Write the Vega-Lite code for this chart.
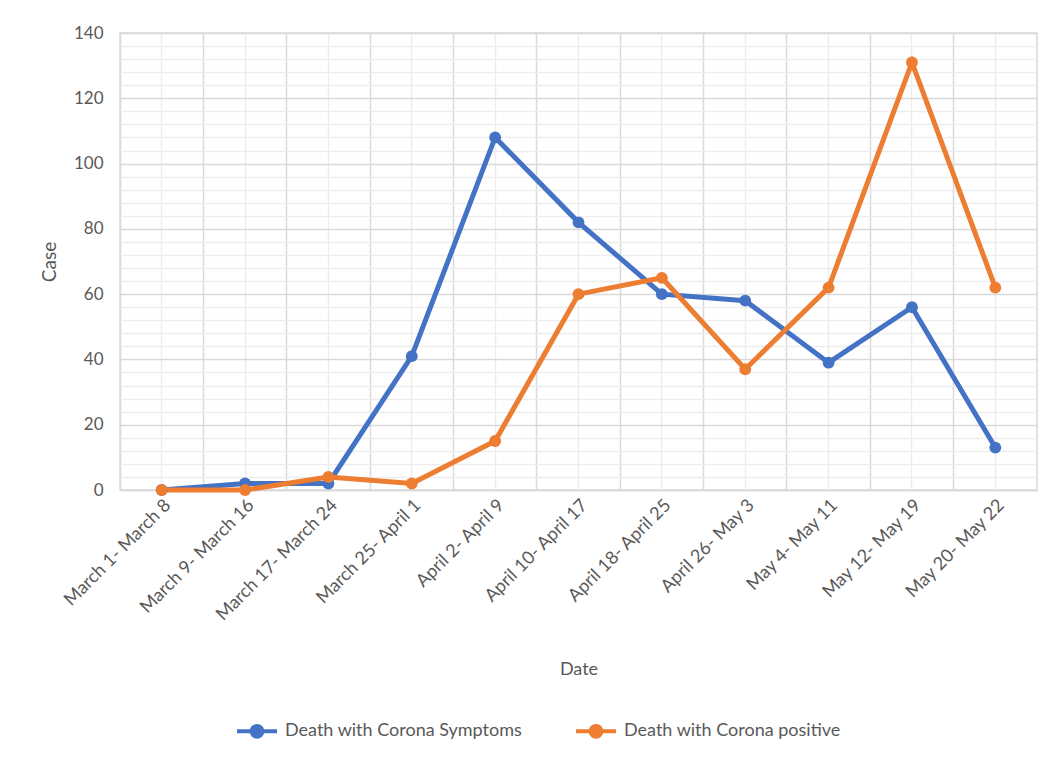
{
  "$schema": "https://vega.github.io/schema/vega-lite/v6.json",
  "autosize": {"type": "none"},
  "width": 917,
  "height": 457,
  "padding": {"left": 120, "top": 33, "right": 15, "bottom": 268},
  "background": "white",
  "config": {
    "font": "Lato",
    "view": {"stroke": "#d9d9d9", "strokeWidth": 1.5},
    "axis": {"labelColor": "#595959", "titleColor": "#595959", "labelFont": "Lato", "titleFont": "Lato", "titleFontWeight": "normal"},
    "legend": {"labelColor": "#595959", "labelFont": "Lato"}
  },
  "data": {
    "values": [
      {"Date": "March 1- March 8", "series": "Death with Corona Symptoms", "Case": 0},
      {"Date": "March 9- March 16", "series": "Death with Corona Symptoms", "Case": 2},
      {"Date": "March 17- March 24", "series": "Death with Corona Symptoms", "Case": 2},
      {"Date": "March 25- April 1", "series": "Death with Corona Symptoms", "Case": 41},
      {"Date": "April 2- April 9", "series": "Death with Corona Symptoms", "Case": 108},
      {"Date": "April 10- April 17", "series": "Death with Corona Symptoms", "Case": 82},
      {"Date": "April 18- April 25", "series": "Death with Corona Symptoms", "Case": 60},
      {"Date": "April 26- May 3", "series": "Death with Corona Symptoms", "Case": 58},
      {"Date": "May 4- May 11", "series": "Death with Corona Symptoms", "Case": 39},
      {"Date": "May 12- May 19", "series": "Death with Corona Symptoms", "Case": 56},
      {"Date": "May 20- May 22", "series": "Death with Corona Symptoms", "Case": 13},
      {"Date": "March 1- March 8", "series": "Death with Corona positive", "Case": 0},
      {"Date": "March 9- March 16", "series": "Death with Corona positive", "Case": 0},
      {"Date": "March 17- March 24", "series": "Death with Corona positive", "Case": 4},
      {"Date": "March 25- April 1", "series": "Death with Corona positive", "Case": 2},
      {"Date": "April 2- April 9", "series": "Death with Corona positive", "Case": 15},
      {"Date": "April 10- April 17", "series": "Death with Corona positive", "Case": 60},
      {"Date": "April 18- April 25", "series": "Death with Corona positive", "Case": 65},
      {"Date": "April 26- May 3", "series": "Death with Corona positive", "Case": 37},
      {"Date": "May 4- May 11", "series": "Death with Corona positive", "Case": 62},
      {"Date": "May 12- May 19", "series": "Death with Corona positive", "Case": 131},
      {"Date": "May 20- May 22", "series": "Death with Corona positive", "Case": 62}
    ]
  },
  "layer": [
    {
      "mark": {"type": "line", "strokeWidth": 5},
      "encoding": {
        "x": {
          "field": "Date", "type": "nominal", "sort": null,
          "scale": {"type": "band", "paddingInner": 0, "paddingOuter": 0},
          "axis": {"orient": "top", "bandPosition": 0, "grid": true, "gridColor": "#d9d9d9", "gridWidth": 1.5, "labels": false, "ticks": false, "domain": false, "title": null}
        },
        "y": {
          "field": "Case", "type": "quantitative",
          "scale": {"domain": [0, 140], "nice": false},
          "axis": {"orient": "right", "values": [4, 8, 12, 16, 24, 28, 32, 36, 44, 48, 52, 56, 64, 68, 72, 76, 84, 88, 92, 96, 104, 108, 112, 116, 124, 128, 132, 136], "grid": true, "gridColor": "#ededed", "gridWidth": 1.5, "labels": false, "ticks": false, "domain": false, "title": null}
        },
        "color": {
          "field": "series", "type": "nominal",
          "scale": {"domain": ["Death with Corona Symptoms", "Death with Corona positive"], "range": ["#4472C4", "#ED7D31"]}
        }
      }
    },
    {
      "mark": {"type": "point", "filled": true, "size": 140, "opacity": 1},
      "encoding": {
        "x": {
          "field": "Date", "type": "nominal", "sort": null,
          "axis": {"orient": "bottom", "bandPosition": 0.5, "grid": true, "gridColor": "#ededed", "gridWidth": 1.5, "labelAngle": -45, "labelFontSize": 18, "labelPadding": 6, "ticks": false, "domain": true, "domainColor": "#d9d9d9", "domainWidth": 1.5, "title": "Date", "titleFontSize": 18, "titlePadding": 37}
        },
        "y": {
          "field": "Case", "type": "quantitative",
          "axis": {"orient": "left", "values": [0, 20, 40, 60, 80, 100, 120, 140], "grid": true, "gridColor": "#d9d9d9", "gridWidth": 1.5, "labelFontSize": 17, "labelPadding": 17, "ticks": false, "domain": false, "title": "Case", "titleFontSize": 19, "titlePadding": 14}
        },
        "color": {
          "field": "series", "type": "nominal",
          "legend": {
            "orient": "none", "legendX": 115, "legendY": 676, "direction": "horizontal", "title": null,
            "symbolType": "M-1,0L1,0M0.27,0A0.27,0.27,0,1,1,-0.27,0A0.27,0.27,0,1,1,0.27,0Z",
            "symbolSize": 1600, "symbolStrokeWidth": 4, "labelFontSize": 18, "labelOffset": 6, "labelLimit": 400, "columnPadding": 45,
            "encode": {"symbols": {"update": {"fill": {"scale": "color", "field": "value"}, "stroke": {"scale": "color", "field": "value"}, "opacity": {"value": 1}}}}
          }
        }
      }
    }
  ]
}
